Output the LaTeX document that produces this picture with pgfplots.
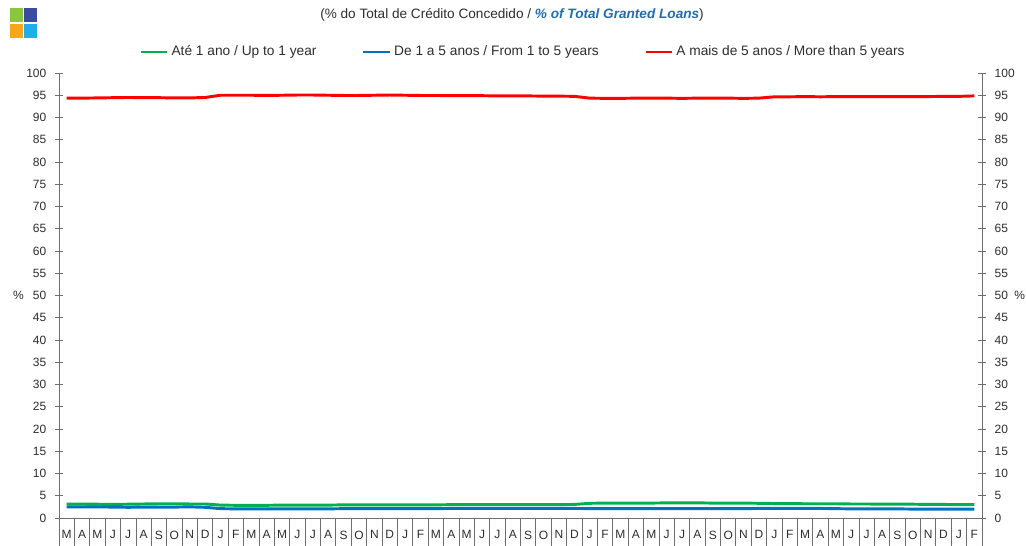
\documentclass[border=0pt]{standalone}
\usepackage{pgfplots}
\pgfplotsset{compat=1.18}
\usepackage{pgfplotstable}
\usepackage{fontspec}
\setmainfont{Liberation Sans}

\definecolor{upto1}{RGB}{0,176,80}
\definecolor{oneto5}{RGB}{0,112,192}
\definecolor{over5}{RGB}{255,0,0}
\definecolor{txt}{RGB}{45,45,45}
\definecolor{ttlblue}{RGB}{31,110,181}
\definecolor{axgray}{RGB}{110,110,110}

% idx: 0 = March of the first year ... 59 = February five years later
\pgfplotstableread{
idx  over  upto  mid
0  94.35 3.15 2.50
1  94.35 3.15 2.50
2  94.40 3.10 2.50
3  94.45 3.05 2.45
4  94.50 3.10 2.40
5  94.45 3.15 2.45
6  94.45 3.20 2.45
7  94.40 3.20 2.45
8  94.40 3.15 2.50
9  94.50 3.15 2.40
10 95.00 2.90 2.10
11 95.00 2.85 2.05
12 95.00 2.85 2.05
13 94.95 2.85 2.05
14 95.00 2.90 2.05
15 95.05 2.90 2.05
16 95.05 2.90 2.05
17 95.00 2.90 2.05
18 94.95 2.95 2.10
19 94.95 2.95 2.10
20 95.00 2.95 2.10
21 95.05 2.95 2.10
22 95.00 2.95 2.10
23 94.95 2.95 2.10
24 94.95 2.95 2.10
25 94.90 3.00 2.15
26 94.90 3.00 2.15
27 94.90 3.00 2.15
28 94.85 3.00 2.15
29 94.85 3.00 2.15
30 94.85 3.00 2.15
31 94.80 3.00 2.15
32 94.80 3.00 2.15
33 94.75 3.05 2.15
34 94.35 3.30 2.10
35 94.30 3.35 2.10
36 94.30 3.35 2.10
37 94.35 3.35 2.10
38 94.35 3.35 2.10
39 94.35 3.40 2.10
40 94.30 3.40 2.10
41 94.35 3.40 2.10
42 94.35 3.35 2.10
43 94.35 3.35 2.10
44 94.30 3.35 2.10
45 94.35 3.30 2.15
46 94.65 3.25 2.15
47 94.65 3.25 2.15
48 94.70 3.20 2.15
49 94.65 3.20 2.15
50 94.70 3.20 2.10
51 94.70 3.15 2.05
52 94.70 3.15 2.05
53 94.70 3.10 2.05
54 94.70 3.10 2.05
55 94.70 3.10 2.00
56 94.70 3.05 2.00
57 94.75 3.05 2.00
58 94.75 3.00 2.00
59 94.85 3.00 2.00
}\loans

\pgfplotsset{
  base/.style={
    scale only axis,
    width=692.25pt, height=333.75pt,
    xmin=-0.5, xmax=59.5, ymin=0, ymax=100,
    ytick={0,5,...,100},
    tick align=outside,
    major tick length=6pt,
    axis line style={-, draw=axgray},
    tick style={draw=axgray, line width=0.6pt},
    tick label style={font=\fontsize{9}{10}\selectfont, text=txt},
    /pgf/number format/assume math mode=true,
    clip=false,
  },
}

\begin{document}
\begin{tikzpicture}
\useasboundingbox (-44.25pt,-21pt) rectangle (725.25pt,388.5pt);

\begin{axis}[
  base,
  axis x line*=bottom, axis y line*=left,
  xtick={0,...,59},
  xticklabels={M,A,M,J,J,A,S,O,N,D,J,F,M,A,M,J,J,A,S,O,N,D,J,F,M,A,M,J,J,A,S,O,N,D,J,F,M,A,M,J,J,A,S,O,N,D,J,F,M,A,M,J,J,A,S,O,N,D,J,F},
  xtick style={draw=none},
  minor xtick={-0.5,0.5,...,59.5},
  minor tick length=21pt,
  minor x tick style={draw=axgray, line width=0.6pt},
  ytick style={xshift=3pt},
  legend style={draw=none, fill=none, legend columns=3,
    at={(axis description cs:0.503,1)}, anchor=center, yshift=15.75pt,
    font=\fontsize{10.3}{11}\selectfont, text=txt,
    nodes={text height=0.75em, text depth=0.22em},
    /tikz/every odd column/.append style={column sep=0pt},
    /tikz/every even column/.append style={column sep=32pt}},
  legend image code/.code={\draw[#1] (0pt,0pt) -- (20pt,0pt);},
  legend cell align=left,
]
\addplot[upto1, line width=2.2pt, line join=round] table[x=idx, y=upto] {\loans};
\addplot[oneto5, line width=2.2pt, line join=round] table[x=idx, y=mid] {\loans};
\addplot[over5, line width=2.2pt, line join=round] table[x=idx, y=over] {\loans};
\legend{Até 1 ano / Up to 1 year, De 1 a 5 anos / From 1 to 5 years, A mais de 5 anos / More than 5 years}
\node[anchor=east, inner sep=0pt, xshift=-26.25pt, font=\fontsize{9}{10}\selectfont, text=txt]
  at (axis description cs:0,0.5) {\%};
\end{axis}

\begin{axis}[
  base,
  axis x line=none, axis y line*=right,
  ytick style={xshift=-3pt},
  yticklabel style={anchor=west},
]
\node[anchor=west, inner sep=0pt, xshift=24pt, font=\fontsize{9}{10}\selectfont, text=txt]
  at (axis description cs:1,0.5) {\%};
\end{axis}

% title
\node[font=\fontsize{10.2}{11}\selectfont, text=txt] at (339.75pt,377.25pt)
  {(\% do Total de Crédito Concedido / {\color{ttlblue}\bfseries\itshape \% of Total Granted Loans})};

% logo
\fill[fill={rgb,255:red,140;green,198;blue,63}] (-36.75pt,382.5pt) rectangle (-27pt,372pt);
\fill[fill={rgb,255:red,59;green,75;blue,160}] (-26.25pt,382.5pt) rectangle (-16.5pt,372pt);
\fill[fill={rgb,255:red,249;green,165;blue,26}] (-36.75pt,370.5pt) rectangle (-27pt,360pt);
\fill[fill={rgb,255:red,31;green,174;blue,232}] (-26.25pt,370.5pt) rectangle (-16.5pt,360pt);
\end{tikzpicture}
\end{document}
